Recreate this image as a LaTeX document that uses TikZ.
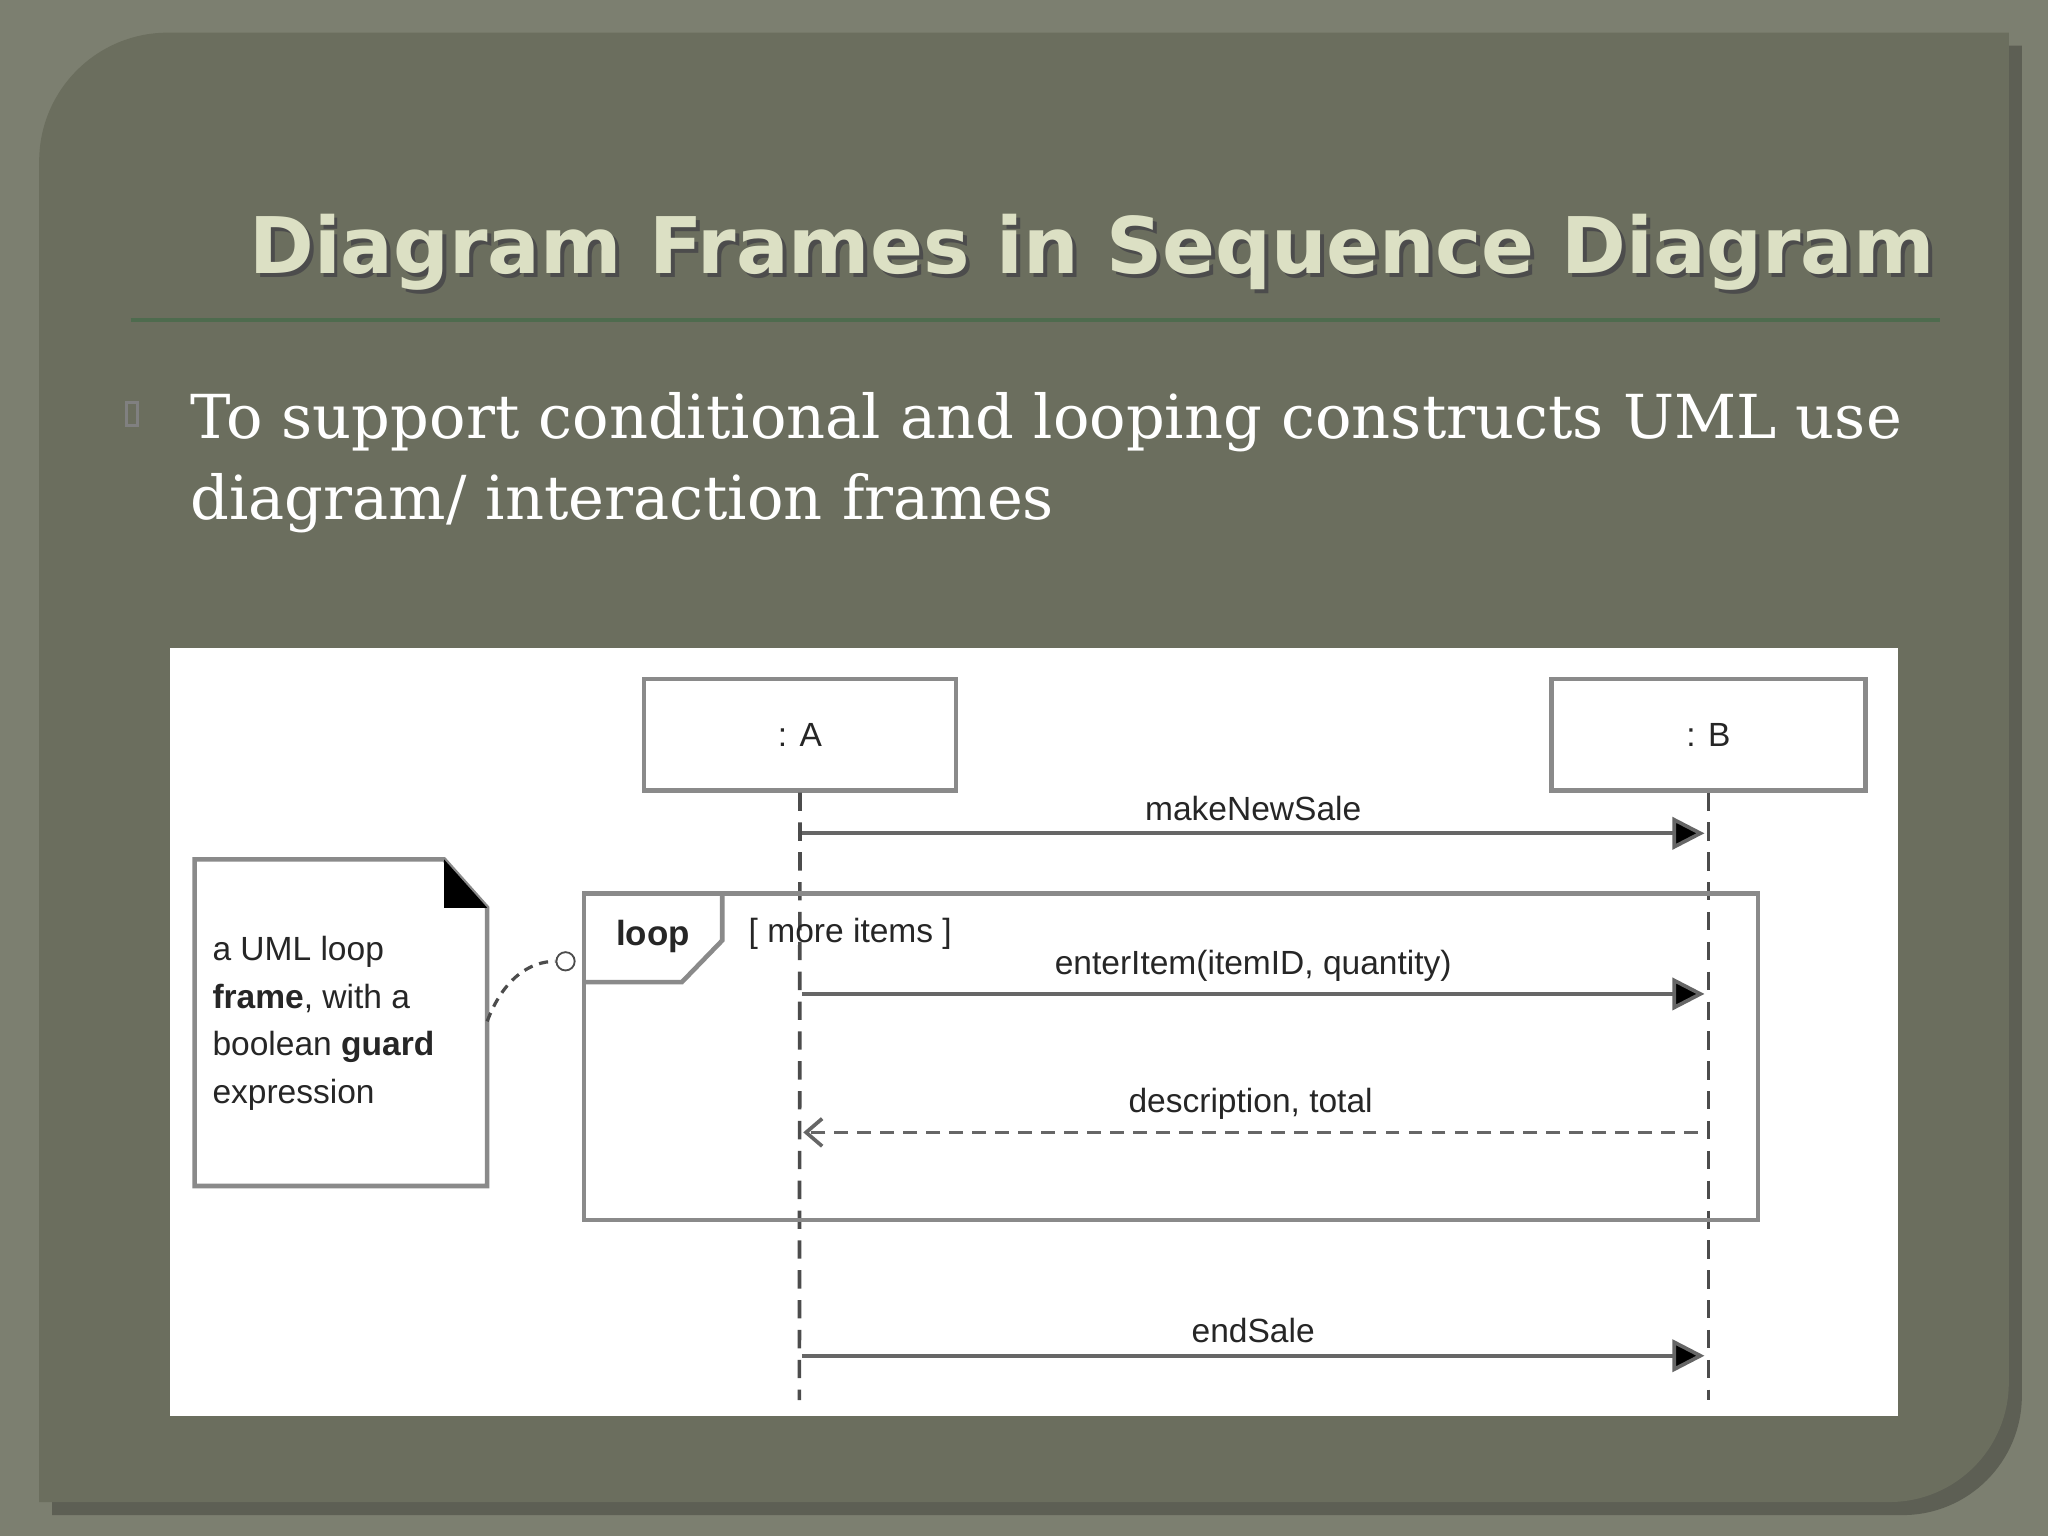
\documentclass[tikz,border=0pt]{standalone}
\usepackage{fontspec}
\setmainfont{DejaVu Serif}
\newfontfamily\ttl{DejaVu Sans}
\newfontfamily\dia{Liberation Sans}
\usetikzlibrary{arrows.meta}
\definecolor{outerc}{HTML}{7C7F70}
\definecolor{panelc}{HTML}{6B6E5E}
\definecolor{titlec}{HTML}{DCE0C4}
\definecolor{linec}{HTML}{4E6B4E}
\definecolor{gl}{HTML}{8A8A8A}
\tikzset{x=0.01cm,y=-0.01cm,
 obj/.style={draw=gl,line width=1pt,fill=white},
 lif/.style={draw=black!70,line width=0.8pt,dash pattern=on 4pt off 2.5pt},
 msg/.style={draw=black!60,line width=0.8pt,-{Triangle[length=7pt,width=7pt,fill=black]}},
 ret/.style={draw=black!60,line width=0.8pt,dash pattern=on 3pt off 2pt,-{Straight Barb[length=3.5pt,width=6pt]}},
 lab/.style={font=\dia\fontsize{7.3pt}{9pt}\selectfont,text=black!85}}
\begin{document}
\begin{tikzpicture}
\useasboundingbox (0,0) rectangle (1568,1176);
\fill[outerc] (0,0) rectangle (1568,1176);
\fill[black!25!outerc] (40,1160) [rounded corners=28pt] -- (40,35) [sharp corners] -- (1548,35) [rounded corners=26pt] -- (1548,1160) [sharp corners] -- cycle;
\fill[panelc] (30,1150) [rounded corners=28pt] -- (30,25) [sharp corners] -- (1538,25) [rounded corners=26pt] -- (1538,1150) [sharp corners] -- cycle;
\node[font=\ttl\bfseries\fontsize{17pt}{20pt}\selectfont,text=black!70] at (839,196) {Diagram Frames in Sequence Diagram};
\node[font=\ttl\bfseries\fontsize{17pt}{20pt}\selectfont,text=titlec] (title) at (836,193) {Diagram Frames in Sequence Diagram};
\draw[linec,line width=1pt] (100,245) -- (1485,245);
\draw[gray,line width=0.6pt] (97,308) rectangle (105,326);
\node[anchor=north west,align=left,text=white,font=\fontsize{13.2pt}{17.6pt}\selectfont,inner sep=0] (bul) at (145,300) {To support conditional and looping constructs UML use\\diagram/ interaction frames};
\fill[white] (130,496) rectangle (1453,1084);
\node[obj,minimum width=2.39cm,minimum height=0.85cm,lab] (A) at (612.5,562.5) {: A};
\node[obj,minimum width=2.4cm,minimum height=0.85cm,lab] (B) at (1308,562.5) {: B};
\coordinate (Ae) at (612,1072); \coordinate (Be) at (1308,1072);
\draw[lif] (A.south) -- (Ae);
\draw[lif] (B.south) -- (Be);
\draw[gl,line width=1pt] (447,684) rectangle (1346,934);
\draw[gl,line width=1pt] (447,752) -- (522,752) -- (553,720) -- (553,684);
\node[lab,font=\dia\bfseries\fontsize{7.6pt}{9pt}\selectfont] (loop) at (500,717) {loop};
\node[lab] (guard) at (651,715) {[ more items ]};
\coordinate (m1a) at (614,638); \coordinate (m1b) at (1305,638);
\draw[msg] (m1a) -- (m1b) node[lab,midway,above=-1pt] {makeNewSale};
\coordinate (m2a) at (614,761); \coordinate (m2b) at (1305,761);
\draw[msg] (m2a) -- (m2b) node[lab,midway,above=-1pt] {enterItem(itemID, quantity)};
\coordinate (m3a) at (1300,867); \coordinate (m3b) at (615,867);
\draw[ret] (m3a) -- (m3b) node[lab,midway,above=-1pt] {description, total};
\coordinate (m4a) at (614,1038); \coordinate (m4b) at (1305,1038);
\draw[msg] (m4a) -- (m4b) node[lab,midway,above=-1pt] {endSale};
\draw[gl,line width=1pt,fill=white] (149,658) -- (340,658) -- (373,695) -- (373,908) -- (149,908) -- cycle;
\fill[black] (340,658) -- (373,695) -- (340,695) -- cycle;
\node[lab,anchor=north west,align=left,font=\dia\fontsize{7.3pt}{10.4pt}\selectfont,inner sep=0] (note) at (162,716) {a UML loop\\\textbf{frame}, with a\\boolean \textbf{guard}\\expression};
\node[circle,draw=black!70,fill=white,inner sep=0,minimum size=0.14cm] (c) at (433,736) {};
\draw[black!70,line width=0.7pt,dash pattern=on 2pt off 1.5pt] (373,782) .. controls (385,750) and (405,736) .. (c.west);
\end{tikzpicture}
\end{document}
